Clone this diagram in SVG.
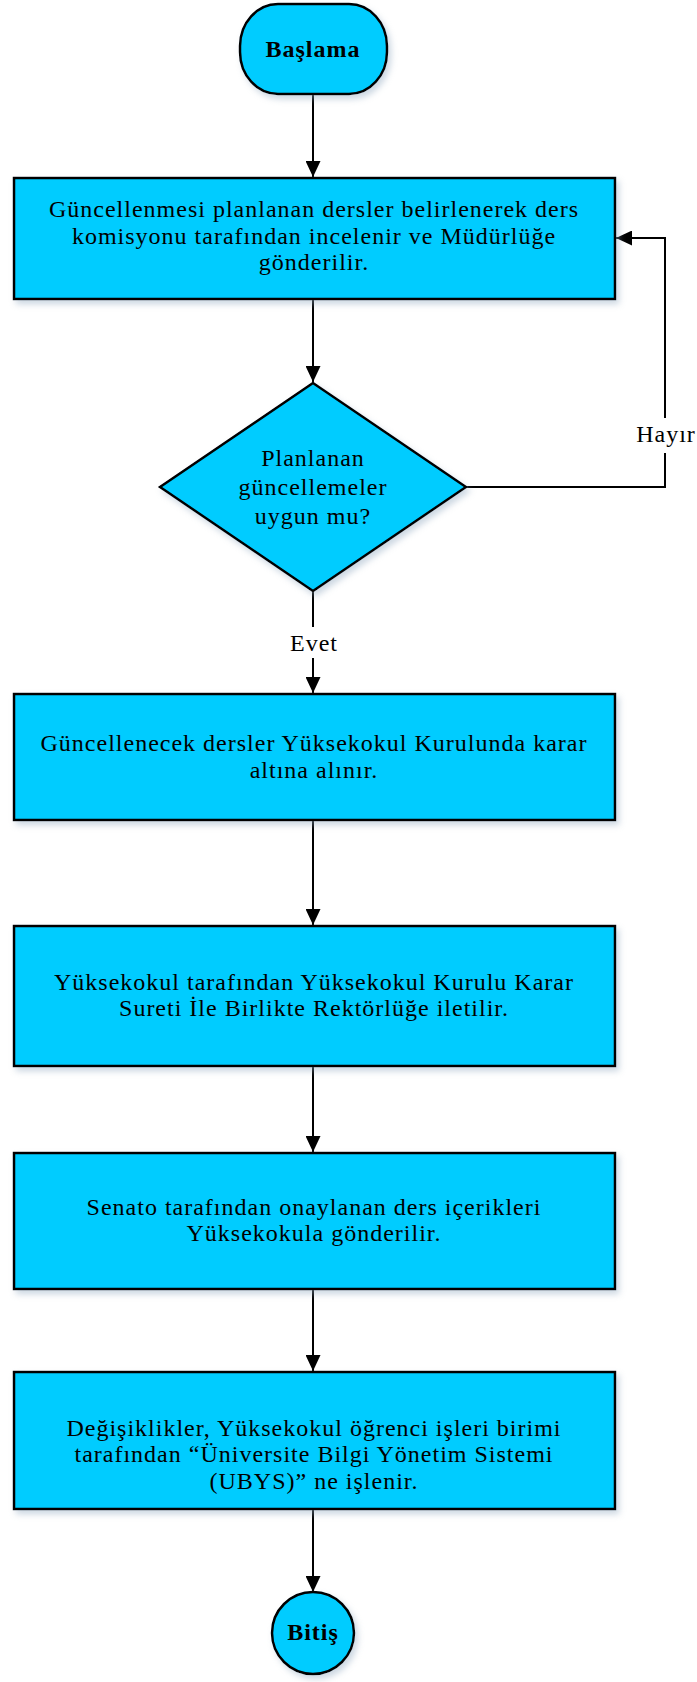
<svg xmlns="http://www.w3.org/2000/svg" width="697" height="1682" viewBox="0 0 697 1682">
<defs>
<style>
.shape{fill:#00CCFF;stroke:#000;stroke-width:2.5;filter:url(#sh)}
.t{font-family:"Liberation Serif",serif;font-size:24px;letter-spacing:1px;text-anchor:middle;fill:#000}
.b{font-weight:bold}
.c{fill:none;stroke:#000;stroke-width:2}
</style>
<filter id="sh" x="-10%" y="-10%" width="125%" height="130%">
<feDropShadow dx="3" dy="4" stdDeviation="3" flood-color="#8fa8c0" flood-opacity="0.45"/>
</filter>
<marker id="ah" markerUnits="userSpaceOnUse" markerWidth="16" markerHeight="15" refX="16" refY="7.5" orient="auto">
<path d="M0,0 L16,7.5 L0,15 z" fill="#000"/>
</marker>
</defs>
<rect width="697" height="1682" fill="#fff"/>
<g id="connectors">
<path class="c" d="M313,94 V177" marker-end="url(#ah)"/>
<path class="c" d="M313,299 V382" marker-end="url(#ah)"/>
<path class="c" d="M466,487 H665 V453"/>
<path class="c" d="M665,418 V238 H616" marker-end="url(#ah)"/>
<path class="c" d="M313,591 V627"/>
<path class="c" d="M313,658 V693" marker-end="url(#ah)"/>
<path class="c" d="M313,820 V925" marker-end="url(#ah)"/>
<path class="c" d="M313,1066 V1152" marker-end="url(#ah)"/>
<path class="c" d="M313,1289 V1371" marker-end="url(#ah)"/>
<path class="c" d="M313,1509 V1592" marker-end="url(#ah)"/>
<text class="t" x="666" y="442">Hayır</text>
<text class="t" x="314" y="651">Evet</text>
</g>
<g id="start">
<rect class="shape" x="240" y="4" width="147" height="90" rx="38" ry="42"/>
<text class="t b" x="313" y="57">Başlama</text>
</g>
<g id="box1">
<rect class="shape" x="14" y="178" width="601" height="121"/>
<text class="t" x="314" y="217">Güncellenmesi planlanan dersler belirlenerek ders</text>
<text class="t" x="314" y="244">komisyonu tarafından incelenir ve Müdürlüğe</text>
<text class="t" x="314" y="270">gönderilir.</text>
</g>
<g id="decision">
<polygon class="shape" points="313,383 466,487 313,591 160,487"/>
<text class="t" x="313" y="466">Planlanan</text>
<text class="t" x="313" y="495">güncellemeler</text>
<text class="t" x="313" y="524">uygun mu?</text>
</g>
<g id="box2">
<rect class="shape" x="14" y="694" width="601" height="126"/>
<text class="t" x="314" y="751">Güncellenecek dersler Yüksekokul Kurulunda karar</text>
<text class="t" x="314" y="778">altına alınır.</text>
</g>
<g id="box3">
<rect class="shape" x="14" y="926" width="601" height="140"/>
<text class="t" x="314" y="990">Yüksekokul tarafından Yüksekokul Kurulu Karar</text>
<text class="t" x="314" y="1016">Sureti İle Birlikte Rektörlüğe iletilir.</text>
</g>
<g id="box4">
<rect class="shape" x="14" y="1153" width="601" height="136"/>
<text class="t" x="314" y="1215">Senato tarafından onaylanan ders içerikleri</text>
<text class="t" x="314" y="1241">Yüksekokula gönderilir.</text>
</g>
<g id="box5">
<rect class="shape" x="14" y="1372" width="601" height="137"/>
<text class="t" x="314" y="1436">Değişiklikler, Yüksekokul öğrenci işleri birimi</text>
<text class="t" x="314" y="1462">tarafından “Üniversite Bilgi Yönetim Sistemi</text>
<text class="t" x="314" y="1489">(UBYS)” ne işlenir.</text>
</g>
<g id="end">
<ellipse class="shape" cx="313" cy="1633" rx="41" ry="41"/>
<text class="t b" x="313" y="1640">Bitiş</text>
</g>
</svg>
